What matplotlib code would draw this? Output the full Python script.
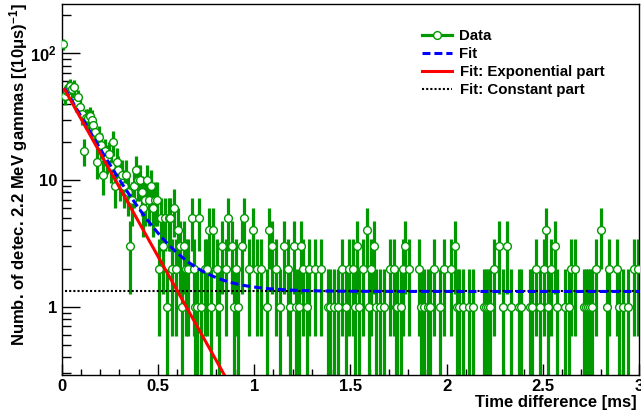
import numpy as np
import matplotlib
matplotlib.use('Agg')
import matplotlib.pyplot as plt
from matplotlib.lines import Line2D
from matplotlib.ticker import FixedLocator, FixedFormatter, LogLocator, NullFormatter, MultipleLocator

plt.rcParams['font.family'] = ['Liberation Sans', 'DejaVu Sans']
plt.rcParams['font.weight'] = 'bold'
plt.rcParams['mathtext.default'] = 'regular'

# detected 2.2 MeV gammas per 10 us bin, 0 - 3 ms
counts_early = [118, 46, 50, 53, 55, 52, 54, 41, 45, 38,
                33, 17, 31, 31, 32, 30, 27, 24, 14, 22,
                19, 11, 17, 15, 16, 13, 20, 9, 14, 12,
                10, 11, 9, 11, 8, 3, 7, 9, 12, 10,
                10, 8, 6, 7, 10, 7, 9, 6, 7, 7]
counts_mid = [2, 5, 3, 5, 1, 5, 5, 2, 6, 2,
              4, 3, 1, 3, 2, 2, 0, 5, 2, 1,
              1, 5, 1, 0, 2, 2, 4, 1, 4, 0,
              2, 1, 0, 3, 0, 2, 5, 0, 3, 1,
              2, 1, 0, 3, 5, 0, 0, 2, 0, 4,
              0, 2, 0, 2, 0, 0, 1, 4, 0, 3,
              0, 2, 0, 1, 0, 3, 0, 2, 1, 0,
              3, 1, 0, 1, 3, 2, 0, 1, 2, 0,
              0, 2, 0, 0, 2, 0, 0, 0, 1, 1,
              0, 1, 0, 1, 0, 2, 0, 1, 0, 2]
counts_tail = [0, 2, 1, 3, 1, 0, 2, 0, 4, 1,
               2, 0, 3, 1, 0, 1, 0, 1, 0, 0,
               2, 0, 2, 1, 1, 0, 1, 2, 3, 0,
               2, 0, 0, 0, 0, 2, 1, 0, 1, 0,
               1, 1, 0, 2, 0, 0, 1, 0, 2, 0,
               0, 0, 2, 0, 3, 1, 1, 0, 1, 0,
               0, 1, 0, 1, 0, 0, 0, 0, 0, 1,
               1, 1, 1, 0, 2, 0, 0, 3, 0, 1,
               0, 3, 0, 1, 0, 0, 0, 1, 1, 0,
               0, 0, 0, 1, 1, 0, 2, 0, 1, 0,
               2, 4, 1, 0, 2, 0, 3, 1, 0, 0,
               0, 1, 0, 1, 2, 0, 2, 0, 0, 0,
               0, 1, 1, 1, 1, 1, 0, 2, 0, 0,
               4, 0, 0, 1, 2, 0, 0, 0, 2, 1,
               0, 1, 0, 0, 1, 0, 0, 2, 0, 2]
counts = counts_early + counts_mid + counts_tail

bin_width = 0.01  # ms
edges = np.arange(len(counts) + 1) * bin_width
centers = 0.5 * (edges[:-1] + edges[1:])

# fit: amp * exp(-t / tau) + const
amp = 57.0
tau = 0.160
const = 1.32
fit_start = 0.015

green = '#009900'

fig = plt.figure(figsize=(6.41, 4.17), dpi=100)
ax = fig.add_axes([61.7 / 641, 1 - 374.5 / 417, (639 - 61.7) / 641, (374.5 - 4) / 417])
ax.set_yscale('log')

y = np.array(counts, dtype=float)
err = np.sqrt(y)
nz = y > 0
lo = np.clip(y - err, 1e-3, None)
ax.vlines(centers[nz], lo[nz], (y + err)[nz], color=green, lw=2.3, zorder=2)
ax.plot(centers[nz], y[nz], 'o', ls='none', mfc='white', mec=green, ms=5.6, mew=1.0, zorder=3)

t = np.linspace(fit_start, 3.0, 800)
expo = amp * np.exp(-t / tau)
ax.plot(t, np.full_like(t, const), color='black', ls=(0, (1, 1)), lw=1.5, zorder=4)
ax.plot(t, expo + const, color='blue', ls=(0, (2.6, 1.3)), lw=2.2, zorder=5)
ax.plot(t, expo, color='red', lw=2.2, zorder=6)

ax.set_xlim(0, 3)
ax.set_ylim(0.292, 245)

ax.xaxis.set_major_locator(FixedLocator([0, 0.5, 1, 1.5, 2, 2.5, 3]))
ax.xaxis.set_major_formatter(FixedFormatter(['0', '0.5', '1', '1.5', '2', '2.5', '3']))
ax.xaxis.set_minor_locator(MultipleLocator(0.1))
ax.yaxis.set_major_locator(FixedLocator([1, 10, 100]))
ax.yaxis.set_major_formatter(FixedFormatter(['1', '10', '10$^{2}$']))
ax.yaxis.set_minor_locator(LogLocator(base=10, subs=np.arange(2, 10)))
ax.yaxis.set_minor_formatter(NullFormatter())

ax.tick_params(axis='x', which='major', direction='in', length=8, width=1, pad=3, labelsize=12)
ax.tick_params(axis='x', which='minor', direction='in', length=4, width=1)
ax.tick_params(axis='y', which='major', direction='in', length=12.6, width=1, pad=3.4, labelsize=12)
ax.tick_params(axis='y', which='minor', direction='in', length=6.5, width=1)
for s in ax.spines.values():
    s.set_linewidth(1)

fig.text(637 / 641, 1 - 402 / 417, 'Time difference [ms]', ha='right', va='center', fontsize=12)
fig.text(19 / 641, 1 - 3 / 417, 'Numb. of detec. 2.2 MeV gammas [(10\u03bcs)$^{-1}$]',
         rotation=90, ha='center', va='top', fontsize=12)

handles = [
    Line2D([], [], color=green, lw=2.3, marker='o', mfc='white', mec=green, ms=5.6, mew=1.0),
    Line2D([], [], color='blue', lw=2.2, ls=(0, (2.6, 1.3))),
    Line2D([], [], color='red', lw=2.2),
    Line2D([], [], color='black', lw=1.5, ls=(0, (1, 1))),
]
labels = ['Data', 'Fit', 'Fit: Exponential part', 'Fit: Constant part']
ax.legend(handles, labels, loc='upper left', bbox_to_anchor=(422 / 641, 1 - 29 / 417),
          bbox_transform=fig.transFigure, frameon=False, fontsize=10.8,
          handlelength=2.0, handletextpad=0.5, labelspacing=0.27,
          borderpad=0, borderaxespad=0)

fig.savefig('out.png', dpi=100)
